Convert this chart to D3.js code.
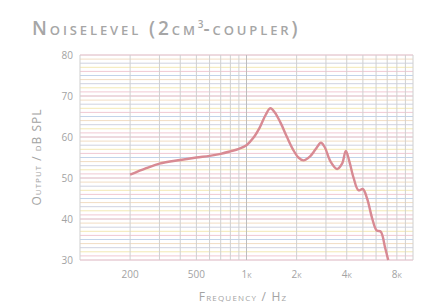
<!DOCTYPE html>
<html>
<head>
<meta charset="utf-8">
<script src="https://cdn.jsdelivr.net/npm/d3@7"></script>
<style>
  body { margin: 0; background: #fff; }
  text { font-family: "Open Sans", sans-serif; fill: #a3a3a3; }
</style>
</head>
<body>
<svg id="chart"></svg>
<script>
// Data
const freq = [200, 250, 300, 400, 500, 600, 700, 800, 900, 1000, 1100, 1200, 1300, 1390, 1480, 1600, 1750, 1900, 2050, 2200, 2400, 2600, 2800, 2950, 3200, 3500, 3750, 3950, 4150, 4400, 4700, 5000, 5300, 5700, 6050, 6400, 6800, 7100];
const level = [50.8, 52.4, 53.5, 54.4, 55.0, 55.4, 55.9, 56.5, 57.1, 58.0, 59.8, 62.3, 65.3, 67.0, 66.0, 63.5, 60.0, 57.0, 55.0, 54.3, 55.2, 57.0, 58.6, 57.5, 54.0, 52.2, 53.5, 56.6, 54.0, 50.0, 47.0, 47.3, 45.0, 40.0, 37.2, 36.9, 33.0, 30.0];
const yTicks = [30, 40, 50, 60, 70, 80];
const xTicks = [200, 500, 1000, 2000, 4000, 8000];
const xTickLabels = ["200", "500", "1k", "2k", "4k", "8k"];
const xGrid = [200, 300, 400, 500, 600, 700, 800, 900, 1000, 2000, 3000, 4000, 5000, 6000, 7000, 8000, 9000, 10000];

const width = 445, height = 304;
const svg = d3.select("#chart").attr("width", width).attr("height", height);

const x = d3.scaleLog().domain([100, 10000]).range([80, 413]);
const y = d3.scaleLinear().domain([30, 80]).range([260, 55]);

// horizontal lines every dB, pastel colours cycling
const hColors = ["#c3d4ea", "#f0c9d3", "#f3e8b4", "#cfd2e0", "#f1dcc3"];
svg.append("g")
  .selectAll("line")
  .data(d3.range(30, 81))
  .enter().append("line")
  .attr("x1", x(100)).attr("x2", x(10000))
  .attr("y1", d => y(d)).attr("y2", d => y(d))
  .attr("stroke", d => d % 10 === 0 ? "#dcb4bf" : hColors[d % hColors.length])
  .attr("stroke-width", 1);

// vertical grid
svg.append("g")
  .selectAll("line")
  .data(xGrid)
  .enter().append("line")
  .attr("x1", d => x(d)).attr("x2", d => x(d))
  .attr("y1", y(80)).attr("y2", y(30))
  .attr("stroke", d => (d === 1000 ? "#bdbdbd" : "#d0d0d0"))
  .attr("stroke-width", 1);

// left axis line
svg.append("line")
  .attr("x1", x(100)).attr("x2", x(100))
  .attr("y1", y(80)).attr("y2", y(30))
  .attr("stroke", "#cfcfcf");

// y tick labels
svg.append("g")
  .selectAll("text")
  .data(yTicks)
  .enter().append("text")
  .attr("x", 73).attr("y", d => y(d) + 3.5)
  .attr("text-anchor", "end")
  .style("font-size", "10px")
  .text(d => d);

// x tick labels
svg.append("g")
  .selectAll("text")
  .data(xTicks)
  .enter().append("text")
  .attr("x", d => x(d)).attr("y", 278)
  .attr("text-anchor", "middle")
  .style("font-size", "10px")
  .style("font-variant", "small-caps")
  .text((d, i) => xTickLabels[i]);

// the curve
const line = d3.line()
  .x((d, i) => x(freq[i]))
  .y(d => y(d))
  .curve(d3.curveCatmullRom.alpha(0.5));

svg.append("path")
  .datum(level)
  .attr("d", line)
  .attr("fill", "none")
  .attr("stroke", "#d88a93")
  .attr("stroke-width", 2.4)
  .attr("stroke-linejoin", "round");

// title
const title = svg.append("text")
  .attr("x", 32).attr("y", 35)
  .style("font-size", "19px")
  .style("font-variant", "small-caps")
  .style("font-weight", "600")
  .style("letter-spacing", "2.9px")
  .style("fill", "#a6a6a6");
title.append("tspan").text("Noiselevel (2cm");
title.append("tspan").attr("dy", -7).style("font-size", "10px").style("letter-spacing", "0px").text("3");
title.append("tspan").attr("dy", 7).text("-coupler)");

// axis titles
svg.append("text")
  .attr("transform", "translate(41,157) rotate(-90)")
  .attr("text-anchor", "middle")
  .style("font-size", "12px")
  .style("letter-spacing", "1px")
  .style("font-variant", "small-caps")
  .text("Output / dB SPL");

svg.append("text")
  .attr("x", 243).attr("y", 301)
  .attr("text-anchor", "middle")
  .style("font-size", "12px")
  .style("letter-spacing", "1.2px")
  .style("font-variant", "small-caps")
  .text("Frequency / Hz");
</script>
</body>
</html>
